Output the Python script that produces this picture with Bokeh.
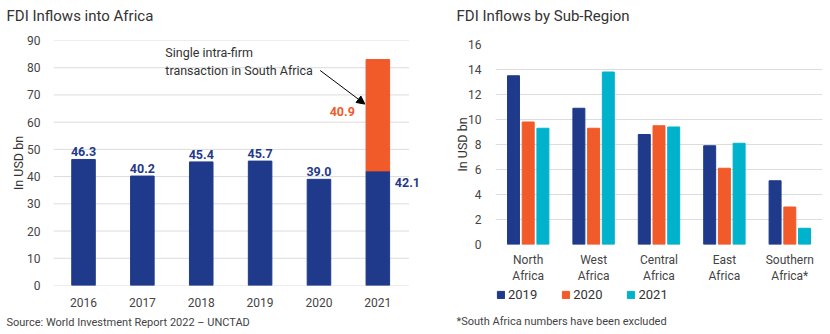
from bokeh.plotting import figure
from bokeh.models import (Range1d, ColumnDataSource, LabelSet, Label, Title,
                          Arrow, NormalHead, FixedTicker, Legend, LegendItem)
from bokeh.core.properties import value
from bokeh.transform import dodge
from bokeh.layouts import row, column
from bokeh.embed import file_html
from bokeh.resources import INLINE

# ---------------- data ----------------
years = ["2016", "2017", "2018", "2019", "2020", "2021"]
fdi_base = [46.3, 40.2, 45.4, 45.7, 39.0, 42.1]
fdi_extra = [0, 0, 0, 0, 0, 40.9]
fdi_ticks = [0, 10, 20, 30, 40, 50, 60, 70, 80, 90]
annotation_text = "Single intra-firm\ntransaction in South Africa"

regions = ["North Africa", "West Africa", "Central Africa", "East Africa", "Southern Africa"]
region_labels = ["North\nAfrica", "West\nAfrica", "Central\nAfrica", "East\nAfrica", "Southern\nAfrica*"]
series_names = ["2019", "2020", "2021"]
v2019 = [13.5, 10.9, 8.8, 7.9, 5.1]
v2020 = [9.8, 9.3, 9.5, 6.1, 3.0]
v2021 = [9.3, 13.8, 9.4, 8.1, 1.3]
region_ticks = [0, 2, 4, 6, 8, 10, 12, 14, 16]

title_left = "FDI Inflows into Africa"
title_right = "FDI Inflows by Sub-Region"
source_note = "Source: World Investment Report 2022 \u2013 UNCTAD"
foot_note = "*South Africa numbers have been excluded"

NAVY = "#1f3a8a"
ORANGE = "#f15a29"
CYAN = "#00b2cc"
GRID = "#dcdcdc"
TXT = "#333333"
FONT = "Roboto"


def style_axes(p):
    p.outline_line_color = None
    p.xgrid.grid_line_color = None
    p.ygrid.grid_line_color = GRID
    for ax in (p.xaxis[0], p.yaxis[0]):
        ax.axis_line_color = None
        ax.major_tick_line_color = None
        ax.minor_tick_line_color = None
        ax.major_label_text_font = FONT
        ax.major_label_text_font_size = "12px"
        ax.major_label_text_color = "#444444"
    p.yaxis.axis_label = "In USD bn"
    p.yaxis.axis_label_text_font = FONT
    p.yaxis.axis_label_text_font_style = "normal"
    p.yaxis.axis_label_text_font_size = "12.5px"
    p.yaxis.axis_label_text_color = TXT


def strip(width, height):
    s = figure(width=width, height=height, x_range=Range1d(0, width), y_range=Range1d(0, height),
               output_backend="svg", toolbar_location=None, frame_align=False,
               x_axis_type=None, y_axis_type=None, min_border=0)
    s.outline_line_color = None
    s.grid.grid_line_color = None
    return s


# ---------------- title strip ----------------
top = strip(830, 30)
title_kw = dict(text_baseline="middle", text_font=FONT, text_font_size="15px", text_color=TXT)
top.add_layout(Label(x=6, y=15, text=title_left, **title_kw))
top.add_layout(Label(x=456, y=15, text=title_right, **title_kw))

# ---------------- left chart ----------------
idx1 = list(range(len(years)))
# frame runs past the last gridline so the side value label is not clipped
p1 = figure(width=425, height=304, x_range=Range1d(-0.51, 5.81), y_range=Range1d(0, 90),
            output_backend="svg", toolbar_location=None, frame_align=False,
            min_border_left=53, min_border_right=0, min_border_top=10, min_border_bottom=49)
style_axes(p1)
p1.ygrid.grid_line_color = None
p1.segment(x0=-0.51, x1=5.53, y0=fdi_ticks, y1=fdi_ticks, line_color=GRID, line_width=1)
p1.xaxis.ticker = FixedTicker(ticks=idx1)
p1.xaxis.major_label_overrides = {i: y for i, y in zip(idx1, years)}
p1.yaxis.ticker = FixedTicker(ticks=fdi_ticks)
p1.xaxis.major_label_standoff = 6
p1.yaxis.major_label_standoff = 7
p1.yaxis.axis_label_standoff = -2

base_src = ColumnDataSource(dict(x=idx1, top=fdi_base))
p1.vbar(x="x", top="top", width=0.4, source=base_src, color=NAVY)

ex_idx = [i for i, e in enumerate(fdi_extra) if e > 0]
ex_src = ColumnDataSource(dict(x=ex_idx,
                               bottom=[fdi_base[i] for i in ex_idx],
                               top=[fdi_base[i] + fdi_extra[i] for i in ex_idx],
                               mid=[fdi_base[i] + fdi_extra[i] / 2 for i in ex_idx],
                               lab=[f"{fdi_extra[i]:.1f}" for i in ex_idx],
                               blab=[f"{fdi_base[i]:.1f}" for i in ex_idx]))
p1.vbar(x="x", bottom="bottom", top="top", width=0.4, source=ex_src, color=ORANGE)

single_idx = [i for i, e in enumerate(fdi_extra) if e == 0]
single_src = ColumnDataSource(dict(x=single_idx,
                                   y=[fdi_base[i] for i in single_idx],
                                   lab=[f"{fdi_base[i]:.1f}" for i in single_idx]))
lab_kw = dict(text_font=value(FONT), text_font_style="bold", text_font_size="12.5px")
p1.add_layout(LabelSet(x="x", y="y", text="lab", source=single_src, text_align="center",
                       text_baseline="bottom", y_offset=3, text_color=NAVY, **lab_kw))
p1.add_layout(LabelSet(x="x", y="bottom", text="blab", source=ex_src, text_align="left",
                       text_baseline="top", x_offset=17, y_offset=-7, text_color=NAVY, **lab_kw))
p1.add_layout(LabelSet(x="x", y="mid", text="lab", source=ex_src, text_align="right",
                       text_baseline="middle", x_offset=-23, y_offset=4, text_color=ORANGE, **lab_kw))

p1.add_layout(Label(x=1.39, y=88.3, text=annotation_text, text_baseline="top",
                    text_align="left", text_font=FONT, text_font_size="12.5px",
                    text_color=TXT))
last = len(years) - 1
p1.add_layout(Arrow(end=NormalHead(size=8, fill_color="black", line_color="black"),
                    x_start=last - 0.98, y_start=79.0, x_end=last - 0.22,
                    y_end=fdi_base[-1] + fdi_extra[-1] * 0.6, line_width=1, line_color="black"))

p1.add_layout(Title(text=source_note, text_font=FONT,
                    text_font_size="11px", text_font_style="normal", text_color="#444444",
                    offset=-47, standoff=8), "below")

# ---------------- right chart ----------------
idx2 = list(range(len(regions)))
p2 = figure(width=405, height=256, x_range=Range1d(-0.5, len(regions) - 0.5), y_range=Range1d(0, 16),
            output_backend="svg", toolbar_location=None, frame_align=False,
            min_border_left=70, min_border_right=8, min_border_top=14, min_border_bottom=42)
style_axes(p2)
p2.xaxis.ticker = FixedTicker(ticks=idx2)
p2.xaxis.major_label_overrides = {i: lab for i, lab in zip(idx2, region_labels)}
p2.yaxis.ticker = FixedTicker(ticks=region_ticks)
p2.xaxis.major_label_standoff = 2
p2.yaxis.major_label_standoff = 8
p2.yaxis.axis_label_standoff = -5

src2 = ColumnDataSource(dict(x=idx2, a=v2019, b=v2020, c=v2021))
p2.vbar(x=dodge("x", -0.225), top="a", width=0.183, source=src2, color=NAVY)
p2.vbar(x=dodge("x", 0.0), top="b", width=0.183, source=src2, color=ORANGE)
p2.vbar(x=dodge("x", 0.225), top="c", width=0.183, source=src2, color=CYAN)

# ---------------- legend + footnote strip under the right chart ----------------
p3 = strip(405, 48)
# legend swatch renderers: one point each, placed entirely outside the strip's visible range
sw_src = ColumnDataSource(dict(x=[-100], bottom=[-60], top=[-50]))
swatches = [p3.vbar(x="x", bottom="bottom", top="top", width=1, source=sw_src, color=c)
            for c in (NAVY, ORANGE, CYAN)]
legend = Legend(items=[LegendItem(label=n, renderers=[r]) for n, r in zip(series_names, swatches)],
                orientation="horizontal", location=(71, 32), margin=0, padding=0,
                spacing=24, glyph_width=9, glyph_height=9, label_standoff=3,
                label_height=13, label_width=20,
                label_text_font=FONT, label_text_font_size="13px", label_text_color=TXT,
                border_line_color=None, background_fill_alpha=0)
p3.add_layout(legend)
p3.add_layout(Label(x=31, y=13, text=foot_note,
                    text_baseline="middle", text_font=FONT, text_font_size="11px",
                    text_color="#444444"))

layout = column(top, row(p1, column(p2, p3)))
open("out.html", "w").write(file_html(layout, INLINE))
